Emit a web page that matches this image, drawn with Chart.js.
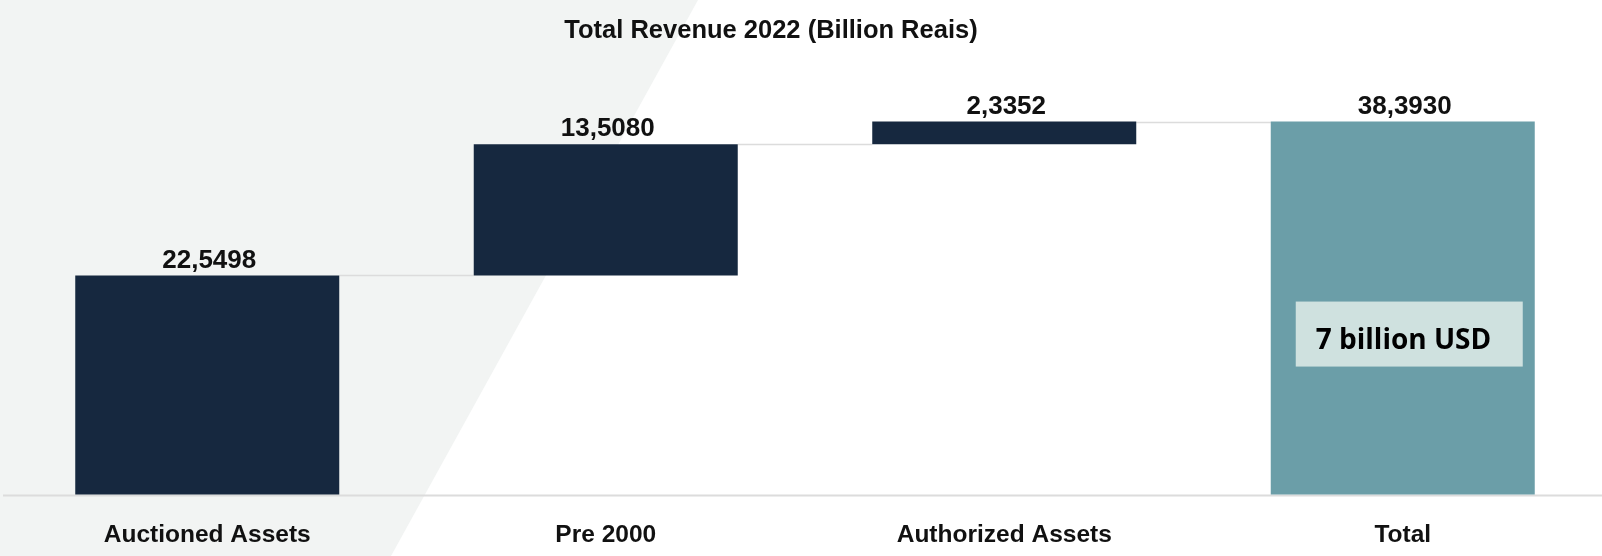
<!DOCTYPE html>
<html>
<head>
<meta charset="utf-8">
<title>Total Revenue 2022</title>
<script src="https://cdn.jsdelivr.net/npm/chart.js@4.4.1/dist/chart.umd.min.js"></script>
<style>
  html, body { margin: 0; padding: 0; background: #fff; }
  #wrap { width: 1602px; height: 556px; }
</style>
</head>
<body>
<div id="wrap"><canvas id="revenueChart" width="1602" height="556"></canvas></div>
<script>
const categories = ['Auctioned Assets', 'Pre 2000', 'Authorized Assets', 'Total'];
const steps = [22.5498, 13.5080, 2.3352];
const total = 38.3930;
const titleText = 'Total Revenue 2022 (Billion Reais)';
const usdNote = '7 billion USD';

const stepColor = '#16283f';
const totalColor = '#6b9ea8';
const labelFont = '"Liberation Sans", Arial, sans-serif';

// floating bars: each step starts where the previous one ended, total starts at 0
const ranges = [];
let running = 0;
steps.forEach(v => {
  ranges.push([running, running + v]);
  running += v;
});
ranges.push([0, total]);
const values = steps.concat([total]);
const colors = steps.map(() => stepColor).concat([totalColor]);

function fmt(v) {
  return v.toFixed(4).replace('.', ',');
}

const backdrop = {
  id: 'backdrop',
  beforeDraw(chart) {
    const ctx = chart.ctx;
    ctx.save();
    ctx.fillStyle = '#ffffff';
    ctx.fillRect(0, 0, chart.width, chart.height);
    ctx.fillStyle = '#f2f4f3';
    ctx.beginPath();
    ctx.moveTo(0, 0);
    ctx.lineTo(698, 0);
    ctx.lineTo(391, chart.height);
    ctx.lineTo(0, chart.height);
    ctx.closePath();
    ctx.fill();

    // title
    ctx.fillStyle = '#111111';
    ctx.font = 'bold 25.5px ' + labelFont;
    ctx.textAlign = 'center';
    ctx.textBaseline = 'middle';
    ctx.fillText(titleText, 771, 31);
    ctx.restore();
  }
};

const connectors = {
  id: 'connectors',
  beforeDatasetsDraw(chart) {
    const ctx = chart.ctx;
    const bars = chart.getDatasetMeta(0).data;
    const y = chart.scales.y;
    const base = y.getPixelForValue(0);
    ctx.save();
    // baseline
    ctx.strokeStyle = '#dcdcdc';
    ctx.lineWidth = 2;
    ctx.beginPath();
    ctx.moveTo(3, base + 1);
    ctx.lineTo(chart.width, base + 1);
    ctx.stroke();
    // step connectors
    ctx.lineWidth = 1.5;
    for (let i = 0; i < bars.length - 1; i++) {
      const a = bars[i], b = bars[i + 1];
      const py = Math.round(y.getPixelForValue(ranges[i][1])) + 0.5;
      ctx.beginPath();
      ctx.moveTo(a.x + a.width / 2, py);
      ctx.lineTo(b.x - b.width / 2, py);
      ctx.stroke();
    }
    ctx.restore();
  }
};

const valueLabels = {
  id: 'valueLabels',
  afterDatasetsDraw(chart) {
    const ctx = chart.ctx;
    const bars = chart.getDatasetMeta(0).data;
    const y = chart.scales.y;
    ctx.save();
    ctx.fillStyle = '#111111';
    ctx.font = 'bold 26px ' + labelFont;
    ctx.textAlign = 'center';
    ctx.textBaseline = 'bottom';
    bars.forEach((bar, i) => {
      const top = y.getPixelForValue(ranges[i][1]);
      ctx.fillText(fmt(values[i]), bar.x + 2, top - 2);
    });

    // USD note box on the total bar
    const last = bars[bars.length - 1];
    const bx = last.x - 107;
    const by = y.getPixelForValue(0) - 193;
    ctx.fillStyle = '#cfe1df';
    ctx.fillRect(bx, by, 227, 65);
    ctx.fillStyle = '#000000';
    ctx.font = 'bold 28px "Open Sans", sans-serif';
    ctx.textAlign = 'left';
    ctx.textBaseline = 'middle';
    ctx.fillText(usdNote, bx + 20, by + 39);
    ctx.restore();
  }
};

new Chart(document.getElementById('revenueChart').getContext('2d'), {
  type: 'bar',
  data: {
    labels: categories,
    datasets: [{
      data: ranges,
      backgroundColor: colors,
      borderWidth: 0,
      categoryPercentage: 1,
      barPercentage: 0.6625
    }]
  },
  options: {
    responsive: false,
    animation: false,
    devicePixelRatio: 1,
    layout: { padding: { left: 8, right: 0, top: 60, bottom: 6 } },
    plugins: {
      legend: { display: false },
      tooltip: { enabled: false },
      title: { display: false }
    },
    scales: {
      x: {
        grid: { display: false, drawTicks: false },
        border: { display: false },
        ticks: {
          color: '#111111',
          padding: 0,
          font: { family: labelFont, size: 24.5, weight: 'bold' }
        }
      },
      y: {
        display: false,
        min: -2.68,
        max: 44.73
      }
    }
  },
  plugins: [backdrop, connectors, valueLabels]
});
</script>
</body>
</html>
